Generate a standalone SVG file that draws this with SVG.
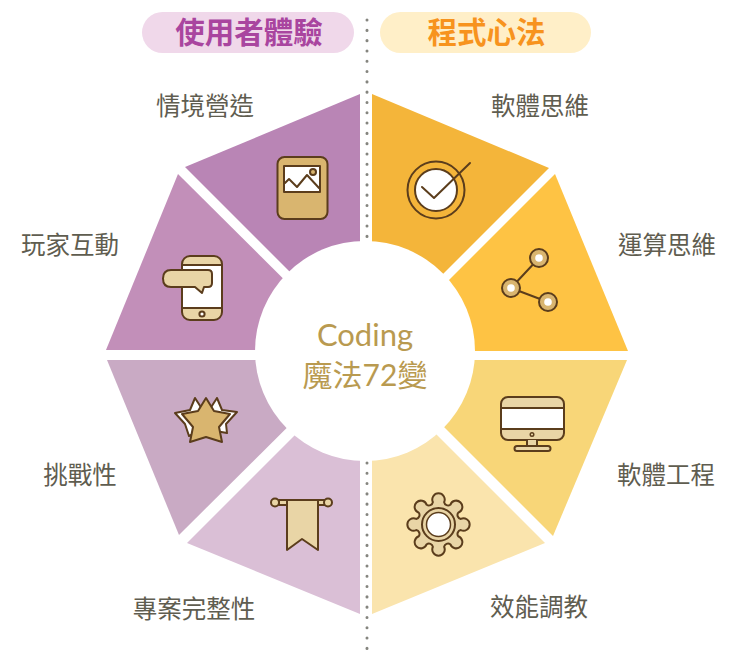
<svg xmlns="http://www.w3.org/2000/svg" width="740" height="671" viewBox="0 0 740 671">
<style>
text{font-family:"Noto Sans CJK TC","Noto Sans",sans-serif;text-anchor:middle}
.l{font-size:24.5px;fill:#5f5d50}
.h{font-size:29.5px;font-weight:700}
.c{fill:#b99a50;font-family:"Lato","Noto Sans CJK TC",sans-serif}
.o{stroke:#5b3d1c;stroke-width:2;stroke-linejoin:round;stroke-linecap:round}
.a{fill:#d9b56f}.b{fill:#e9d5a6}.w{fill:#fff}.n{fill:none}
</style>
<rect width="740" height="671" fill="#fff"/>
<g id="divider"><line x1="367" y1="20" x2="367" y2="652" stroke="#85857f" stroke-width="3" stroke-linecap="round" stroke-dasharray="0.1 10.2"/></g>
<g id="header-left"><rect x="142" y="12" width="212" height="41" rx="20.5" fill="#f0d8ea"/><text class="h" x="249" y="43" fill="#a9459f">使用者體驗</text></g>
<g id="header-right"><rect x="380" y="12" width="211" height="41" rx="20.5" fill="#ffefc8"/><text class="h" x="486.500" y="43" fill="#f7931e">程式心法</text></g>

<g id="seg-l1"><polygon points="360,94 185,167 360,342" fill="#b985b5"/>
<rect class="a o" x="277.500" y="157" width="50" height="62" rx="7"/><rect class="w o" x="284" y="166" width="36" height="26"/>
<path class="n o" d="M285,183 L289,179 L297,187 L307,175 L319,188"/><circle class="a o" cx="313" cy="172" r="3"/>
<text class="l" x="205" y="114.500">情境營造</text></g>

<g id="seg-l2"><polygon points="178,174 106,350 355,350" fill="#c28fb9"/>
<rect class="b o" x="182" y="256" width="40" height="64" rx="8"/><rect class="w" x="183" y="265" width="38" height="43"/>
<path class="n o" d="M182,265 H222 M182,308 H222"/><circle class="w o" cx="202" cy="314" r="2.6"/>
<path class="b o" d="M171,270 H208 Q212,270 212,274 V283 Q212,287 208,287 H204 L202,293 L195,287 H171 Q163,287 163,278.500 Q163,270 171,270 Z"/>
<text class="l" x="70" y="253.500">玩家互動</text></g>

<g id="seg-l3"><polygon points="107,360 179,535 355,360" fill="#c9aac4"/>
<path class="w o" d="M175,413 L190,410 L195,398 L204,412 L202,430 L189,436 L185,424 Z"/>
<path class="w o" d="M237,412 L222,410 L217,398 L208,412 L210,430 L227,433 L226,424 Z"/>
<path class="a o" d="M206,398 L214,411 L230,414 L219,427 L222,442 L206,437 L190,442 L193,427 L182,414 L198,411 Z"/>
<text class="l" x="80" y="483.500">挑戰性</text></g>

<g id="seg-l4"><polygon points="187,543 360,614 360,370" fill="#dabfd6"/>
<rect class="b o" x="279" y="500" width="46" height="5"/>
<circle class="b o" cx="275" cy="502.500" r="4"/><circle class="b o" cx="328" cy="502.500" r="4"/>
<path class="b o" d="M287,500 H318 V550 L302,539 L287,550 Z"/>
<text class="l" x="194" y="617.500">專案完整性</text></g>

<g id="seg-r1"><polygon points="372,94 549,168 372,345" fill="#f4b53a"/>
<circle class="n o" cx="436" cy="190" r="28.500"/><circle class="w o" cx="436" cy="190" r="21"/>
<path class="n o" d="M422,187 L434,198 L470,163"/>
<text class="l" x="540" y="114.500">軟體思維</text></g>

<g id="seg-r2"><polygon points="555,174 628,351 378,351" fill="#fec344"/>
<path class="n o" d="M511,288 L539,258 M511,288 L548,302"/>
<circle class="a o" cx="539" cy="258" r="9"/><circle class="w" cx="539" cy="258" r="3.800"/>
<circle class="a o" cx="511" cy="288" r="9"/><circle class="w" cx="511" cy="288" r="3.800"/>
<circle class="a o" cx="548" cy="302" r="9"/><circle class="w" cx="548" cy="302" r="3.800"/>
<text class="l" x="667" y="253.500">運算思維</text></g>

<g id="seg-r3"><polygon points="627,360 553,536 377,360" fill="#f8d678"/>
<rect class="b o" x="501" y="397" width="63" height="43" rx="7"/><rect class="w" x="502" y="408" width="61" height="21"/>
<path class="n o" d="M501,408 H564 M501,429 H564"/><circle class="n o" cx="532" cy="434.500" r="1.800" style="stroke-width:1.400"/>
<path class="b o" d="M527,440 V446 H537 V440"/><rect class="b o" x="514.500" y="446" width="36" height="5" rx="2.500"/>
<text class="l" x="666" y="483.500">軟體工程</text></g>

<g id="seg-r4"><polygon points="545,543 372,614 372,370" fill="#fae4ad"/>
<path class="b o" transform="translate(438.500 524.500)" d="M22.300,-5.600A6.200,6.200 0 1 1 22.300,5.600A4,4 0 0 0 19.700,11.800A6.200,6.200 0 1 1 11.800,19.700A4,4 0 0 0 5.600,22.300A6.200,6.200 0 1 1 -5.600,22.300A4,4 0 0 0 -11.800,19.700A6.200,6.200 0 1 1 -19.700,11.800A4,4 0 0 0 -22.300,5.600A6.200,6.200 0 1 1 -22.300,-5.600A4,4 0 0 0 -19.700,-11.800A6.200,6.200 0 1 1 -11.800,-19.700A4,4 0 0 0 -5.600,-22.300A6.200,6.200 0 1 1 5.600,-22.300A4,4 0 0 0 11.800,-19.700A6.200,6.200 0 1 1 19.700,-11.800A4,4 0 0 0 22.300,-5.600Z"/>
<circle class="n o" cx="438.500" cy="524.500" r="16.500"/><circle class="w o" cx="438.500" cy="524.500" r="12" style="stroke-width:1.500"/>
<text class="l" x="539" y="615.500">效能調教</text></g>

<g id="center"><circle cx="365" cy="351" r="110" fill="#fff"/>
<text class="c" x="365" y="346" font-size="31">Coding</text><text class="c" x="365" y="386" font-size="30">魔法72變</text></g>
</svg>
